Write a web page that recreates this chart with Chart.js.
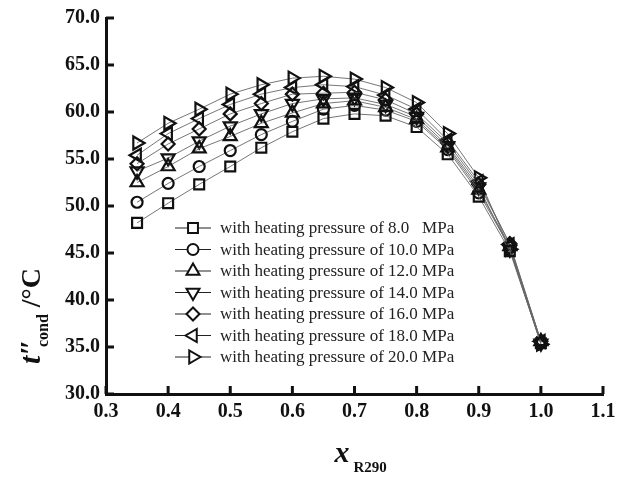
<!DOCTYPE html>
<html lang="en">
<head>
    <meta charset="UTF-8">
    <title>t''cond vs x R290</title>
    <script src="https://cdn.jsdelivr.net/npm/chart.js"></script>
    <style>
html, body { margin: 0; padding: 0; background: #fff; }
#wrap { width: 638px; height: 477px; }
    </style>
</head>
<body>
    <div id="wrap"><canvas id="tChart" width="638" height="477"></canvas></div>
    <script>
const xValues = [0.35, 0.40, 0.45, 0.50, 0.55, 0.60, 0.65, 0.70, 0.75, 0.80, 0.85, 0.90, 0.95, 1.00];
const p8  = [48.2, 50.3, 52.3, 54.2, 56.2, 57.9, 59.3, 59.8, 59.6, 58.4, 55.5, 51.0, 45.2, 35.4];
const p10 = [50.4, 52.4, 54.2, 55.9, 57.6, 59.0, 60.3, 60.7, 60.2, 59.0, 56.0, 51.4, 45.6, 35.5];
const p12 = [52.5, 54.2, 56.1, 57.4, 58.8, 59.9, 60.9, 61.2, 60.5, 59.2, 56.2, 51.7, 45.7, 35.6];
const p14 = [53.7, 55.1, 56.9, 58.5, 59.8, 60.9, 61.4, 61.5, 60.8, 59.5, 56.4, 52.0, 45.4, 35.4];
const p16 = [54.5, 56.6, 58.2, 59.8, 60.9, 61.9, 62.0, 62.1, 61.3, 59.8, 56.7, 52.3, 46.0, 35.6];
const p18 = [55.4, 57.7, 59.3, 60.8, 61.9, 62.6, 62.9, 62.7, 61.8, 60.3, 57.0, 52.6, 45.9, 35.6];
const p20 = [56.7, 58.8, 60.3, 61.9, 62.9, 63.6, 63.8, 63.5, 62.6, 61.0, 57.7, 53.0, 45.4, 35.3];
const seriesLabels = [
    'with heating pressure of 8.0   MPa',
    'with heating pressure of 10.0 MPa',
    'with heating pressure of 12.0 MPa',
    'with heating pressure of 14.0 MPa',
    'with heating pressure of 16.0 MPa',
    'with heating pressure of 18.0 MPa',
    'with heating pressure of 20.0 MPa'
];
const xTicks = [0.3, 0.4, 0.5, 0.6, 0.7, 0.8, 0.9, 1.0, 1.1];
const yTicks = [30, 35, 40, 45, 50, 55, 60, 65, 70];

const serif = '"Liberation Serif", "DejaVu Serif", serif';
// marker look for each series: style, rotation, radius
const markers = [
    { style: 'rect', rot: 0, r: 7 },
    { style: 'circle', rot: 0, r: 5.5 },
    { style: 'triangle', rot: 0, r: 7.5 },
    { style: 'triangle', rot: 180, r: 7.5 },
    { style: 'rectRot', rot: 0, r: 6.5 },
    { style: 'triangle', rot: 270, r: 7.5 },
    { style: 'triangle', rot: 90, r: 7.5 }
];
const allSeries = [p8, p10, p12, p14, p16, p18, p20];

function makeDataset(vals, i) {
    const m = markers[i];
    return {
        label: seriesLabels[i],
        data: vals.map((v, k) => ({ x: xValues[k], y: v })),
        borderColor: '#666',
        borderWidth: 0.9,
        pointStyle: m.style,
        rotation: m.rot,
        pointRadius: m.r,
        pointBorderWidth: 2.2,
        pointBorderColor: '#111',
        pointBackgroundColor: 'rgba(255,255,255,0)',
        tension: 0
    };
}

// inward ticks, axis titles and legend
const extrasPlugin = {
    id: 'extras',
    afterDraw(chart) {
        const ctx = chart.ctx;
        const a = chart.chartArea;
        const xs = chart.scales.x, ys = chart.scales.y;
        ctx.save();
        ctx.strokeStyle = '#111';
        ctx.lineWidth = 3;
        yTicks.forEach(t => {
            const py = ys.getPixelForValue(t);
            ctx.beginPath(); ctx.moveTo(a.left, py); ctx.lineTo(a.left + 8, py); ctx.stroke();
        });
        xTicks.forEach(t => {
            const px = xs.getPixelForValue(t);
            ctx.beginPath(); ctx.moveTo(px, a.bottom); ctx.lineTo(px, a.bottom - 8); ctx.stroke();
        });

        // x title
        ctx.fillStyle = '#111';
        ctx.textBaseline = 'alphabetic';
        ctx.font = 'italic bold 30px ' + serif;
        const cx = (a.left + a.right) / 2;
        ctx.textAlign = 'left';
        ctx.fillText('x', cx - 20, 462);
        ctx.font = 'bold 15px ' + serif;
        ctx.fillText('R290', cx - 1, 472);

        // y title, rotated
        ctx.save();
        ctx.translate(40, 272);
        ctx.rotate(-Math.PI / 2);
        ctx.textAlign = 'left';
        ctx.font = 'italic bold 30px ' + serif;
        let px0 = -92;
        ctx.fillText('t\u2033', px0, 0);
        let w = ctx.measureText('t\u2033').width;
        ctx.font = 'bold 16px ' + serif;
        ctx.fillText('cond', px0 + w - 8, 8);
        let w2 = ctx.measureText('cond').width;
        ctx.font = 'bold 28px ' + serif;
        ctx.fillText(' /\u00b0C', px0 + w - 8 + w2, 0);
        ctx.restore();

        // legend
        const lx = 175, ly = 228, step = 21.5;
        ctx.font = '17px ' + serif;
        ctx.textBaseline = 'middle';
        ctx.textAlign = 'left';
        seriesLabels.forEach((lab, i) => {
            const y = ly + i * step;
            ctx.strokeStyle = '#222';
            ctx.lineWidth = 1.2;
            ctx.beginPath(); ctx.moveTo(lx, y); ctx.lineTo(lx + 36, y); ctx.stroke();
            ctx.lineWidth = 2;
            ctx.strokeStyle = '#111';
            ctx.fillStyle = '#fff';
            Chart.helpers.drawPoint(ctx, {
                pointStyle: markers[i].style,
                rotation: markers[i].rot,
                radius: markers[i].r,
                borderWidth: 2
            }, lx + 18, y);
            ctx.fillStyle = '#222';
            ctx.fillText(lab, lx + 45, y + 1);
        });
        ctx.restore();
    }
};

new Chart(document.getElementById('tChart'), {
    type: 'line',
    data: { datasets: allSeries.map(makeDataset) },
    options: {
        responsive: false,
        animation: false,
        layout: { padding: { left: 0, right: 35, top: 17, bottom: 0 } },
        plugins: { legend: { display: false }, tooltip: { enabled: false } },
        scales: {
            x: {
                type: 'linear',
                min: 0.3, max: 1.1,
                afterBuildTicks: s => { s.ticks = xTicks.map(v => ({ value: v })); },
                afterFit: s => { s.height = 83; },
                grid: { display: false, drawTicks: false },
                border: { display: true, color: '#111', width: 3 },
                ticks: {
                    color: '#111',
                    padding: 6,
                    font: { family: serif, size: 20, weight: 'bold' },
                    callback: v => Number(v).toFixed(1)
                }
            },
            y: {
                min: 30, max: 70,
                afterBuildTicks: s => { s.ticks = yTicks.map(v => ({ value: v })); },
                afterFit: s => { s.width = 106; },
                grid: { display: false, drawTicks: false },
                border: { display: true, color: '#111', width: 3 },
                ticks: {
                    color: '#111',
                    padding: 6,
                    font: { family: serif, size: 20, weight: 'bold' },
                    callback: v => Number(v).toFixed(1)
                }
            }
        }
    },
    plugins: [extrasPlugin]
});
    </script>
</body>
</html>
